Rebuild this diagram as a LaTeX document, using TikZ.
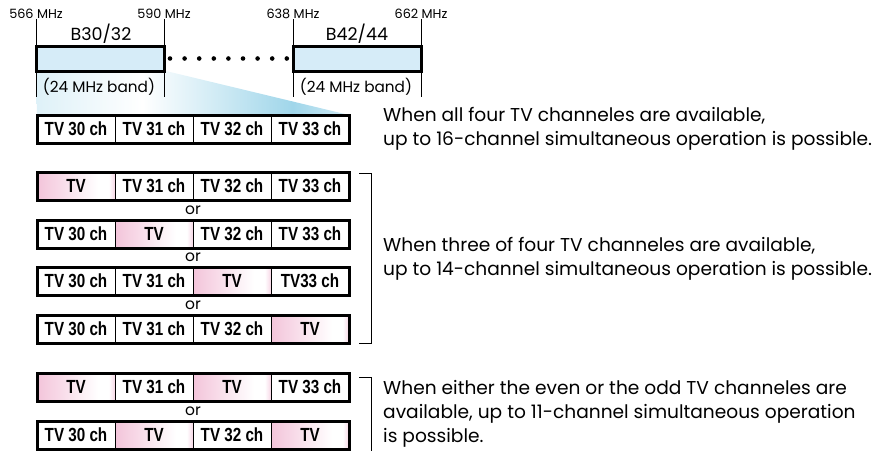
\documentclass[tikz,border=0pt]{standalone}
\usepackage{fontspec}
\setmainfont{Poppins}
\newfontfamily\cellfont[FakeStretch=0.8]{Liberation Sans}
\usepackage{tikz}
\usetikzlibrary{positioning}
\definecolor{bandblue}{RGB}{214,236,248}
\definecolor{tvpink}{RGB}{243,196,218}
\definecolor{fadeblue}{RGB}{160,214,234}
\pgfdeclarehorizontalshading{tvfade}{100bp}{color(0bp)=(tvpink); color(25bp)=(tvpink);
  color(64bp)=(white); color(71bp)=(white); color(75bp)=(tvpink!70); color(100bp)=(tvpink!70)}
\pgfdeclarehorizontalshading{zoomfade}{100bp}{color(0bp)=(fadeblue!35); color(25bp)=(fadeblue!35);
  color(42bp)=(white); color(66bp)=(fadeblue); color(75bp)=(fadeblue!50); color(100bp)=(fadeblue!50)}
\tikzset{
  freq/.style={font=\fontsize{12.8}{14}\selectfont, inner sep=0pt},
  tick/.style={line width=0.8pt},
  band/.style={draw, line width=3pt, fill=bandblue, minimum width=128pt,
    minimum height=25pt, inner sep=0pt, outer sep=0pt, anchor=north west},
  bandname/.style={font=\fontsize{17.5}{19}\selectfont, inner sep=0pt},
  bandwidth/.style={font=\fontsize{15.3}{17}\selectfont, inner sep=0pt},
  dotline/.style={line width=4.6pt, line cap=round, dash pattern=on 0pt off 14.6pt},
  chcell/.style={draw, line width=0.9pt, minimum width=78pt, minimum height=28pt,
    inner sep=0pt, outer sep=0pt, anchor=north west,
    font=\cellfont\bfseries\fontsize{19}{20}\selectfont},
  freecell/.style={chcell, shade, shading=tvfade},
  rowframe/.style={draw, line width=3pt},
  orlabel/.style={font=\fontsize{15.5}{17}\selectfont, inner sep=0pt},
  note/.style={anchor=west, align=left, inner sep=0pt,
    font=\fontsize{18.6}{24}\selectfont},
  bracket/.style={line width=0.8pt}
}
\begin{document}
\begin{tikzpicture}[x=1pt, y=-1pt]
\useasboundingbox (0,0) rectangle (888,451);

% zoom shading from the band down to the channel row
\shade[shading=zoomfade]
  (36,71) -- (166,71) -- (349,115) -- (37,115) -- cycle;

% frequency axis
\node[freq] (f566) at (36,14) {566 MHz};
\node[freq] (f590) at (164,14) {590 MHz};
\node[freq] (f638) at (293,14) {638 MHz};
\node[freq] (f662) at (421,14) {662 MHz};
\draw[tick] (f566.south) -- (36,97);
\draw[tick] (f590.south) -- (164,97);
\draw[tick] (f638.south) -- (293,97);
\draw[tick] (f662.south) -- (421,97);

\node[band] (b1) at (36,46) {};
\node[band] (b2) at (293,46) {};
\node[bandname] (b1name) at (101,34) {B30/32};
\node[bandname] (b2name) at (357,34) {B42/44};
\node[bandwidth] (b1width) at (99,87) {(24 MHz band)};
\node[bandwidth] (b2width) at (356,87) {(24 MHz band)};
\draw[dotline, shorten <=6pt, shorten >=5.9pt] (b1.east) -- (b2.west);

% all four channels
\node[chcell] (r1a) at (37,115) {TV 30 ch};
\node[chcell, right=0pt of r1a] (r1b) {TV 31 ch};
\node[chcell, right=0pt of r1b] (r1c) {TV 32 ch};
\node[chcell, right=0pt of r1c] (r1d) {TV 33 ch};
\draw[rowframe] (r1a.north west) rectangle (r1d.south east);

% three of four
\node[freecell] (r2a) at (37,172) {TV};
\node[chcell, right=0pt of r2a] (r2b) {TV 31 ch};
\node[chcell, right=0pt of r2b] (r2c) {TV 32 ch};
\node[chcell, right=0pt of r2c] (r2d) {TV 33 ch};
\draw[rowframe] (r2a.north west) rectangle (r2d.south east);
\node[orlabel] (or1) at (193,210) {or};

\node[chcell] (r3a) at (37,220) {TV 30 ch};
\node[freecell, right=0pt of r3a] (r3b) {TV};
\node[chcell, right=0pt of r3b] (r3c) {TV 32 ch};
\node[chcell, right=0pt of r3c] (r3d) {TV 33 ch};
\draw[rowframe] (r3a.north west) rectangle (r3d.south east);
\node[orlabel] (or2) at (193,257.5) {or};

\node[chcell] (r4a) at (37,267) {TV 30 ch};
\node[chcell, right=0pt of r4a] (r4b) {TV 31 ch};
\node[freecell, right=0pt of r4b] (r4c) {TV};
\node[chcell, right=0pt of r4c] (r4d) {TV33 ch};
\draw[rowframe] (r4a.north west) rectangle (r4d.south east);
\node[orlabel] (or3) at (193,305) {or};

\node[chcell] (r5a) at (37,315) {TV 30 ch};
\node[chcell, right=0pt of r5a] (r5b) {TV 31 ch};
\node[chcell, right=0pt of r5b] (r5c) {TV 32 ch};
\node[freecell, right=0pt of r5c] (r5d) {TV};
\draw[rowframe] (r5a.north west) rectangle (r5d.south east);

% even or odd
\node[freecell] (r6a) at (37,373) {TV};
\node[chcell, right=0pt of r6a] (r6b) {TV 31 ch};
\node[freecell, right=0pt of r6b] (r6c) {TV};
\node[chcell, right=0pt of r6c] (r6d) {TV 33 ch};
\draw[rowframe] (r6a.north west) rectangle (r6d.south east);
\node[orlabel] (or4) at (193,411) {or};

\node[chcell] (r7a) at (37,421) {TV 30 ch};
\node[freecell, right=0pt of r7a] (r7b) {TV};
\node[chcell, right=0pt of r7b] (r7c) {TV 32 ch};
\node[freecell, right=0pt of r7c] (r7d) {TV};
\draw[rowframe] (r7a.north west) rectangle (r7d.south east);

\draw[bracket] (359,173) -- (371,173) -- (371,343) -- (359,343);
\draw[bracket] (359,377) -- (371,377) -- (371,451);

\node[note] (n1) at (383,129) {When all four TV channeles are available,\\
  up to 16-channel simultaneous operation is possible.};
\node[note] (n2) at (383,259) {When three of four TV channeles are available,\\
  up to 14-channel simultaneous operation is possible.};
\node[note] (n3) at (383,414) {When either the even or the odd TV channeles are\\
  available, up to 11-channel simultaneous operation\\
  is possible.};

\end{tikzpicture}
\end{document}
